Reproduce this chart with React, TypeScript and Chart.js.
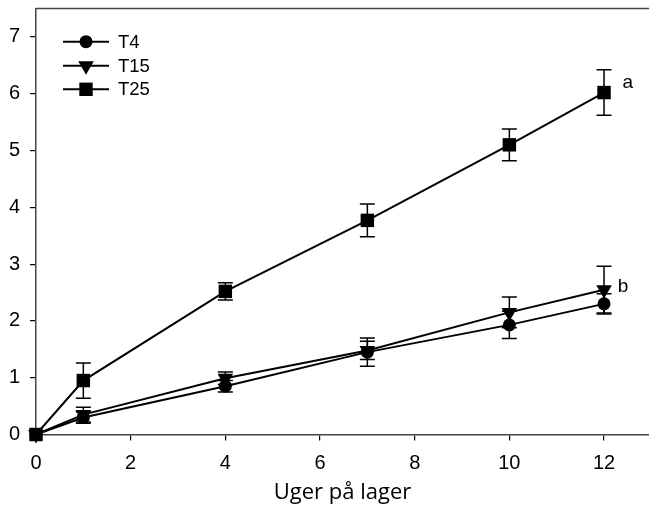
import { useEffect, useRef } from "react";
import { Chart, registerables } from "chart.js";
Chart.register(...registerables);

const weeks = [0, 1, 4, 7, 10, 12];
const seriesNames = ["T4", "T15", "T25"];
const t4Values = [0, 0.3, 0.85, 1.45, 1.93, 2.3];
const t4Errors = [0, 0.1, 0.1, 0.25, 0.24, 0.18];
const t15Values = [0, 0.35, 0.99, 1.48, 2.15, 2.55];
const t15Errors = [0, 0.13, 0.11, 0.16, 0.27, 0.41];
const t25Values = [0, 0.95, 2.52, 3.77, 5.1, 6.02];
const t25Errors = [0, 0.31, 0.15, 0.29, 0.28, 0.4];
const xTickValues = [0, 2, 4, 6, 8, 10, 12];
const yTickValues = [0, 1, 2, 3, 4, 5, 6, 7];
const letterLabels = ["a", "b"];
const letterX = [12.5, 12.4];
const letterY = [6.2, 2.6];
const xTitle = "Uger på lager";

const TICK_FONT = "'Liberation Sans', Arial, sans-serif";

function drawMarker(ctx: CanvasRenderingContext2D, style: string, x: number, y: number) {
  ctx.beginPath();
  if (style === "circle") {
    ctx.arc(x, y, 6.5, 0, Math.PI * 2);
  } else if (style === "rect") {
    ctx.rect(x - 6.7, y - 6.7, 13.4, 13.4);
  } else {
    const r = 9;
    ctx.moveTo(x, y + r);
    ctx.lineTo(x - r * Math.sin(Math.PI / 3), y - r / 2);
    ctx.lineTo(x + r * Math.sin(Math.PI / 3), y - r / 2);
    ctx.closePath();
  }
  ctx.fillStyle = "#000";
  ctx.fill();
}

export default function App() {
  const ref = useRef<HTMLCanvasElement | null>(null);
  useEffect(() => {
    if (!ref.current) return;
    const valueSets = [t4Values, t15Values, t25Values];
    const errorSets = [t4Errors, t15Errors, t25Errors];
    const styles = ["circle", "triangle", "rect"];
    const radii = [6.5, 9, 9.5];

    const errorPlugin = {
      id: "errbars",
      beforeDatasetsDraw(chart: any) {
        const ctx = chart.ctx;
        const xs = chart.scales.x;
        const ys = chart.scales.y;
        ctx.save();
        ctx.strokeStyle = "#000";
        ctx.lineWidth = 1.5;
        valueSets.forEach((vals, si) => {
          vals.forEach((v, i) => {
            const e = errorSets[si][i];
            if (!e) return;
            const px = xs.getPixelForValue(weeks[i]);
            const top = ys.getPixelForValue(v + e);
            const bot = ys.getPixelForValue(v - e);
            ctx.beginPath();
            ctx.moveTo(px, top);
            ctx.lineTo(px, bot);
            ctx.moveTo(px - 7.5, top);
            ctx.lineTo(px + 7.5, top);
            ctx.moveTo(px - 7.5, bot);
            ctx.lineTo(px + 7.5, bot);
            ctx.stroke();
          });
        });
        ctx.restore();
      },
      afterDraw(chart: any) {
        const ctx = chart.ctx;
        const xs = chart.scales.x;
        const ys = chart.scales.y;
        const area = chart.chartArea;
        ctx.save();
        ctx.strokeStyle = "#444";
        ctx.lineWidth = 1.5;
        ctx.beginPath();
        ctx.moveTo(area.left, area.top);
        ctx.lineTo(area.right, area.top);
        ctx.stroke();
        const rowsY = [41.7, 65.7, 89.3];
        seriesNames.forEach((name, i) => {
          const y = rowsY[i];
          ctx.strokeStyle = "#000";
          ctx.lineWidth = 2;
          ctx.beginPath();
          ctx.moveTo(63, y);
          ctx.lineTo(109, y);
          ctx.stroke();
          drawMarker(ctx, styles[i], 86, y);
          ctx.fillStyle = "#000";
          ctx.font = `18.5px ${TICK_FONT}`;
          ctx.textAlign = "left";
          ctx.textBaseline = "middle";
          ctx.fillText(name, 118, y + 1);
        });
        letterLabels.forEach((t, i) => {
          ctx.fillStyle = "#000";
          ctx.font = `19px ${TICK_FONT}`;
          ctx.textAlign = "center";
          ctx.textBaseline = "middle";
          ctx.fillText(t, xs.getPixelForValue(letterX[i]), ys.getPixelForValue(letterY[i]));
        });
        ctx.restore();
      },
    };

    const chart = new Chart(ref.current, {
      type: "line",
      data: {
        datasets: seriesNames.map((name, si) => ({
          label: name,
          data: weeks.map((w, i) => ({ x: w, y: valueSets[si][i] })),
          borderColor: "#000",
          backgroundColor: "#000",
          borderWidth: 2,
          pointStyle: styles[si] as any,
          pointRotation: si === 1 ? 180 : 0,
          pointRadius: radii[si],
          pointBackgroundColor: "#000",
          pointBorderColor: "#000",
          pointBorderWidth: 0,
          clip: false as any,
          tension: 0,
        })),
      },
      options: {
        animation: false,
        responsive: false,
        maintainAspectRatio: false,
        layout: { autoPadding: false, padding: { top: 8.5, left: 0, right: 0, bottom: 0 } },
        plugins: { legend: { display: false }, tooltip: { enabled: false } },
        scales: {
          x: {
            type: "linear",
            min: 0,
            max: 12.95,
            afterBuildTicks(scale: any) {
              scale.ticks = xTickValues.map((v) => ({ value: v }));
            },
            afterFit(scale: any) {
              scale.height = 71.5;
              scale.paddingLeft = 0;
              scale.paddingRight = 0;
              scale.paddingTop = 0;
              scale.paddingBottom = 0;
            },
            grid: { display: true, drawOnChartArea: false, drawTicks: true, tickLength: 6, color: "#000", lineWidth: 1.2 },
            border: { display: true, color: "#444", width: 1.5 },
            ticks: { color: "#000", font: { family: TICK_FONT, size: 20 }, padding: 11, maxRotation: 0, autoSkip: false },
            title: {
              display: true,
              text: xTitle,
              color: "#000",
              font: { family: "'Open Sans', 'Noto Sans', sans-serif", size: 22 },
              padding: { top: 0, bottom: 0 },
            },
          },
          y: {
            type: "linear",
            min: 0,
            max: 7.5,
            afterBuildTicks(scale: any) {
              scale.ticks = yTickValues.map((v) => ({ value: v }));
            },
            afterFit(scale: any) {
              scale.width = 36;
              scale.paddingLeft = 0;
              scale.paddingRight = 0;
              scale.paddingTop = 0;
              scale.paddingBottom = 0;
            },
            grid: { display: true, drawOnChartArea: false, drawTicks: true, tickLength: 6, color: "#000", lineWidth: 1.2 },
            border: { display: true, color: "#444", width: 1.5 },
            ticks: { color: "#000", font: { family: TICK_FONT, size: 20 }, padding: 10, autoSkip: false },
          },
        },
      },
      plugins: [errorPlugin],
    });
    return () => chart.destroy();
  }, []);
  return (
    <div style={{ position: "fixed", left: 0, top: 0, width: 649, height: 506, background: "#fff" }}>
      <canvas ref={ref} width={649} height={506} style={{ width: 649, height: 506, display: "block" }} />
    </div>
  );
}
